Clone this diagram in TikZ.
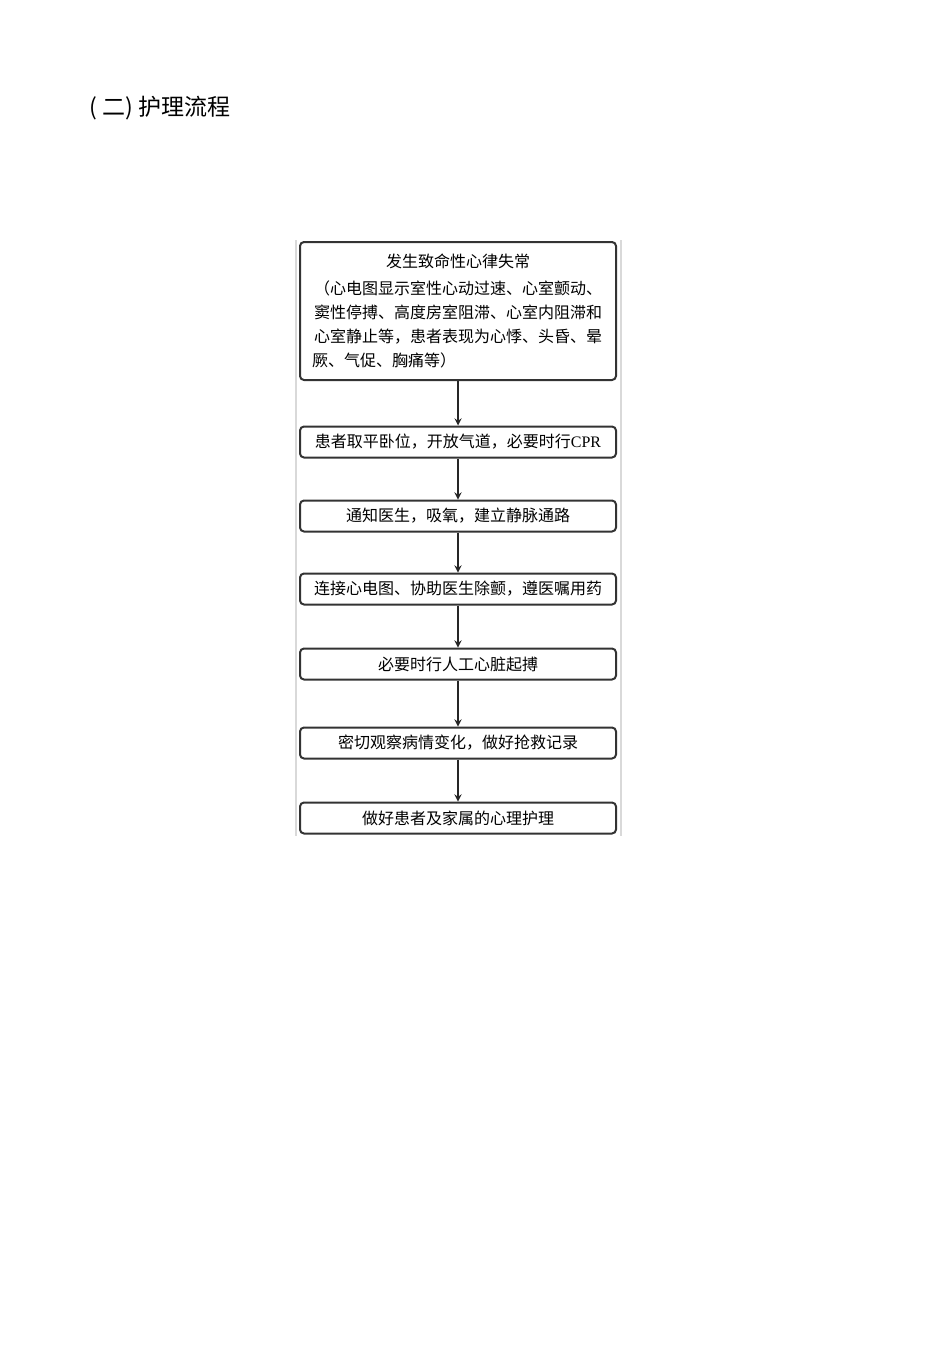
\documentclass[tikz,border=0pt]{standalone}
\usepackage{fontspec}
\setmainfont{Noto Sans CJK SC}
\newfontfamily\latinserif{Liberation Serif}
\usetikzlibrary{arrows}

\begin{document}
\begin{tikzpicture}[x=0.5pt,y=-0.5pt]
		\tikzset{stage/.style = {shape=rectangle, draw=black!80, line width=1pt, rounded corners=2pt,
			minimum width=158pt, minimum height=15.5pt, inner sep=2pt, font=\fontsize{8}{12}\selectfont}}
		\tikzset{flow/.style = {-stealth, line width=0.6pt, black!85}}
		\tikzset{edgeline/.style = {black!15, line width=0.7pt}}

		\useasboundingbox (0,0) rectangle (950,1345);

		\node[anchor=west, inner sep=0pt, font=\fontsize{11.5}{14}\selectfont] (T) at (89,108) {( 二) 护理流程};

		\coordinate (L_1) at (296,240);
		\coordinate (L_2) at (296,836);
		\coordinate (R_1) at (621,240);
		\coordinate (R_2) at (621,836);
		\draw[edgeline] (L_1) -- (L_2);
		\draw[edgeline] (R_1) -- (R_2);

		\node[stage, text width=146pt, align=center, minimum height=69pt] (S_1) at (458,311)
			{发生致命性心律失常\\[1.5pt]
			（心电图显示室性心动过速、心室颤动、\\
			窦性停搏、高度房室阻滞、心室内阻滞和\\
			心室静止等，患者表现为心悸、头昏、晕\\
			\makebox[146pt][l]{厥、气促、胸痛等）}};
		\node[stage] (S_2) at (458,442) {患者取平卧位，开放气道，必要时行{\latinserif CPR}};
		\node[stage] (S_3) at (458,516) {通知医生，吸氧，建立静脉通路};
		\node[stage] (S_4) at (458,589) {连接心电图、协助医生除颤，遵医嘱用药};
		\node[stage] (S_5) at (458,664) {必要时行人工心脏起搏};
		\node[stage] (S_6) at (458,743) {密切观察病情变化，做好抢救记录};
		\node[stage] (S_7) at (458,818) {做好患者及家属的心理护理};

		\draw[flow] (S_1) to (S_2);
		\draw[flow] (S_2) to (S_3);
		\draw[flow] (S_3) to (S_4);
		\draw[flow] (S_4) to (S_5);
		\draw[flow] (S_5) to (S_6);
		\draw[flow] (S_6) to (S_7);

	\end{tikzpicture}
\end{document}
